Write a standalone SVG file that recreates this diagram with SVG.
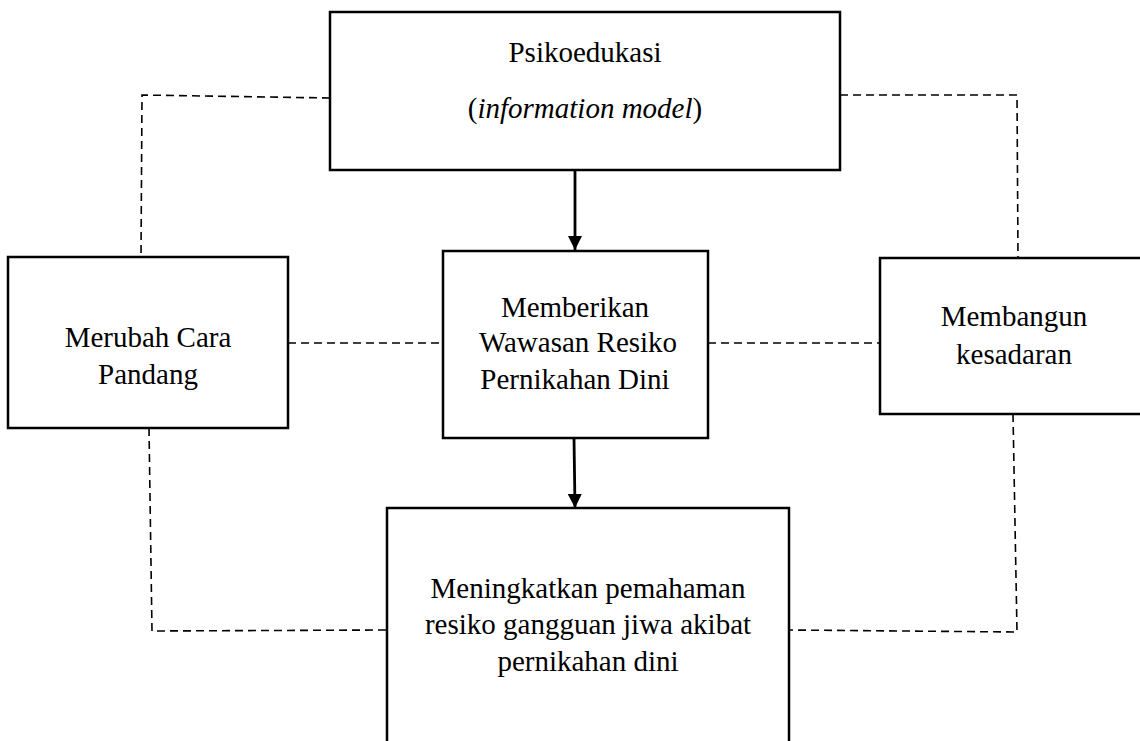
<svg xmlns="http://www.w3.org/2000/svg" width="1140" height="741" viewBox="0 0 1140 741">
<style>
.box{fill:#fff;stroke:#000;stroke-width:2.5}
.dash{fill:none;stroke:#000;stroke-width:1.6;stroke-dasharray:8 5}
.arrow{fill:none;stroke:#000;stroke-width:2.8}
text{font-family:"Liberation Serif","Times New Roman",serif;font-size:29px;fill:#000;text-anchor:middle}
</style>
<defs>
<marker id="ah" viewBox="0 0 14 14" refX="14" refY="7" markerWidth="14" markerHeight="14" markerUnits="userSpaceOnUse" orient="auto">
<path d="M0,0 L14,7 L0,14 Z" fill="#000"/>
</marker>
</defs>
<rect width="1140" height="741" fill="#fff"/>
<g id="connectors">
<path class="dash" d="M330 98 L142 95 L141 257"/>
<path class="dash" d="M840 95 L1017 95 L1018 258"/>
<path class="dash" d="M288 343 L443 343"/>
<path class="dash" d="M708 343 L880 343"/>
<path class="dash" d="M149 428 L152 631 L387 630"/>
<path class="dash" d="M1013 414 L1017 632 L789 630"/>
<line class="arrow" x1="575" y1="171" x2="575" y2="250" marker-end="url(#ah)"/>
<line class="arrow" x1="574" y1="438" x2="575" y2="508" stroke-width="2.4" marker-end="url(#ah)"/>
</g>
<g id="node-psikoedukasi">
<rect class="box" x="330" y="12" width="510" height="158"/>
<text x="585" y="62">Psikoedukasi</text>
<text x="585" y="118">(<tspan font-style="italic">information model</tspan>)</text>
</g>
<g id="node-merubah">
<rect class="box" x="8" y="257" width="280" height="171"/>
<text x="148" y="347">Merubah Cara</text>
<text x="148" y="384">Pandang</text>
</g>
<g id="node-memberikan">
<rect class="box" x="443" y="251" width="265" height="187"/>
<text x="575" y="317">Memberikan</text>
<text x="578" y="352">Wawasan Resiko</text>
<text x="575" y="389">Pernikahan Dini</text>
</g>
<g id="node-membangun">
<rect class="box" x="880" y="258" width="280" height="156"/>
<text x="1014" y="326">Membangun</text>
<text x="1014" y="364">kesadaran</text>
</g>
<g id="node-meningkatkan">
<rect class="box" x="387" y="508" width="402" height="260"/>
<text x="588" y="598">Meningkatkan pemahaman</text>
<text x="588" y="634">resiko gangguan jiwa akibat</text>
<text x="588" y="671">pernikahan dini</text>
</g>
</svg>
